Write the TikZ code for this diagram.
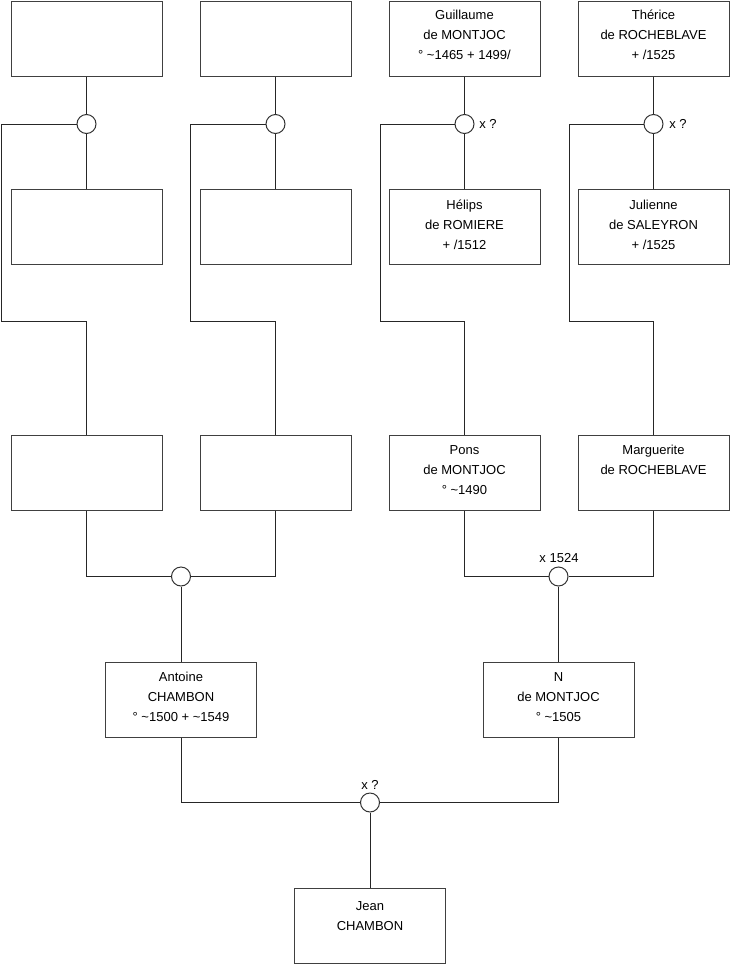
\documentclass[tikz,border=0pt]{standalone}
\usepackage{fontspec}
\setmainfont{Liberation Sans}
\begin{document}
\begin{tikzpicture}[x=1pt,y=-1pt,
  pbox/.style={draw=black!75, line width=1pt, minimum width=151pt, minimum height=75pt, inner sep=0pt},
  ptext/.style={anchor=north, align=center, inner sep=0pt, font=\fontsize{13}{20}\selectfont},
  wed/.style={draw=black!80, fill=white, circle, minimum size=19pt, inner sep=0pt, line width=1pt},
  lab/.style={inner sep=0pt, font=\fontsize{13}{15}\selectfont},
  link/.style={line width=1pt, black!85}]
\useasboundingbox (0,0) rectangle (740,975);
% row 1
\node[pbox] (b11) at (86.5,38.5) {};
\node[pbox] (b12) at (275.5,38.5) {};
\node[pbox] (b13) at (464.5,38.5) {};
\node[pbox] (b14) at (653.5,38.5) {};
% row 2
\node[pbox] (b21) at (86.5,227) {};
\node[pbox] (b22) at (275.5,227) {};
\node[pbox] (b23) at (464.5,227) {};
\node[pbox] (b24) at (653.5,227) {};
% row 3
\node[pbox] (b31) at (86.5,473) {};
\node[pbox] (b32) at (275.5,473) {};
\node[pbox] (b33) at (464.5,473) {};
\node[pbox] (b34) at (653.5,473) {};
% row 4
\node[pbox] (b41) at (181,699.5) {};
\node[pbox] (b42) at (558.5,699.5) {};
% row 5
\node[pbox] (b5) at (370,925.5) {};
% texts
\node[ptext] (t13) at ([yshift=-5pt]b13.north) {\strut Guillaume\\de MONTJOC\\° \textasciitilde1465 + 1499/};
\node[ptext] (t14) at ([yshift=-5pt]b14.north) {\strut Thérice\\de ROCHEBLAVE\\+ /1525};
\node[ptext] (t23) at ([yshift=-6pt]b23.north) {\strut Hélips\\de ROMIERE\\+ /1512};
\node[ptext] (t24) at ([yshift=-6pt]b24.north) {\strut Julienne\\de SALEYRON\\+ /1525};
\node[ptext] (t33) at ([yshift=-5.6pt]b33.north) {\strut Pons\\de MONTJOC\\° \textasciitilde1490};
\node[ptext] (t34) at ([yshift=-5.6pt]b34.north) {\strut Marguerite\\de ROCHEBLAVE};
\node[ptext] (t41) at ([yshift=-5.6pt]b41.north) {\strut Antoine\\CHAMBON\\° \textasciitilde1500 + \textasciitilde1549};
\node[ptext] (t42) at ([yshift=-5.6pt]b42.north) {\strut N\\de MONTJOC\\° \textasciitilde1505};
\node[ptext] (t5) at ([yshift=-8.6pt]b5.north) {\strut Jean\\CHAMBON};
% marriage circles
\node[wed] (m1) at (86.5,124) {};
\node[wed] (m2) at (275.5,124) {};
\node[wed] (m3) at (464.5,124) {};
\node[wed] (m4) at (653.5,124) {};
\node[wed] (m5) at (181,576.5) {};
\node[wed] (m6) at (558.5,576.5) {};
\node[wed] (m7) at (370,802.5) {};
% corner coordinates
\coordinate (k1) at (1.7,321.5);
\coordinate (k2) at (190.7,321.5);
\coordinate (k3) at (380,321.5);
\coordinate (k4) at (569.3,321.5);
% connectors
\foreach \c in {1,2,3,4}{
  \draw[link] (b1\c.south) -- (m\c.north);
  \draw[link] (m\c.south) -- (b2\c.north);
  \draw[link] (m\c.west) -| (k\c) -| (b3\c.north);
}
\draw[link] (b31.south) |- (m5.west);
\draw[link] (b32.south) |- (m5.east);
\draw[link] (m5.south) -- (b41.north);
\draw[link] (b33.south) |- (m6.west);
\draw[link] (b34.south) |- (m6.east);
\draw[link] (m6.south) -- (b42.north);
\draw[link] (b41.south) |- (m7.west);
\draw[link] (b42.south) |- (m7.east);
\draw[link] (m7.south) -- (b5.north);
% labels
\node[lab] (l3) at (488,124) {x ?};
\node[lab] (l4) at (678,124) {x ?};
\node[lab] (l6) at (559,558) {x 1524};
\node[lab] (l7) at (370,785) {x ?};
\end{tikzpicture}
\end{document}
